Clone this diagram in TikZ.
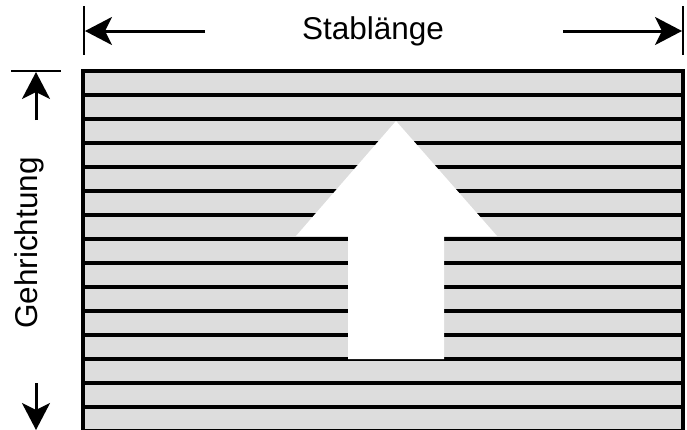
\documentclass[tikz,border=0pt]{standalone}
\usepackage{fontspec}
\setmainfont{Liberation Sans}
\usetikzlibrary{arrows.meta}
\begin{document}
\begin{tikzpicture}[x=1pt,y=-1pt,
  dimline/.style={line width=3pt,-{Stealth[length=27pt,width=28pt,inset=7pt]}},
  tickline/.style={line width=2.5pt},
  stripe/.style={line width=3.2pt},
  lbl/.style={font=\fontsize{31.5}{36}\selectfont,inner sep=0pt}]
\useasboundingbox (0,0) rectangle (687,429);
\clip (0,0) rectangle (687,429);
% bar fill
\fill[gray!27] (83,71) rectangle (683,440);
% stripes
\foreach \y in {71,95,...,431} {
  \draw[stripe] (83,\y) -- (683,\y);
}
\draw[line width=3.5pt] (83,440) -- (83,71) -- (683,71) -- (683,440);
% big white arrow
\fill[white] (348,359) -- (348,236) -- (296,236) -- (396,121) -- (497,236) -- (444,236) -- (444,359) -- cycle;
% top dimension
\coordinate (tl1) at (84,6); \coordinate (tl2) at (84,55);
\coordinate (tr1) at (683,6); \coordinate (tr2) at (683,55);
\draw[tickline] (tl1) -- (tl2);
\draw[tickline] (tr1) -- (tr2);
\node[lbl] (stab) at (373,31) {Stablänge};
\coordinate (la) at (205,31); \coordinate (lt) at (85,31);
\coordinate (ra) at (563,31); \coordinate (rt) at (682,31);
\draw[dimline] (la) -- (lt);
\draw[dimline] (ra) -- (rt);
% left dimension
\coordinate (vt1) at (11,71); \coordinate (vt2) at (61,71);
\draw[tickline] (vt1) -- (vt2);
\coordinate (ua) at (36,120); \coordinate (ut) at (36,72);
\draw[dimline] (ua) -- (ut);
\coordinate (da) at (36,383); \coordinate (dt) at (36,430);
\draw[dimline] (da) -- (dt);
\node[lbl,rotate=90] (geh) at (29,243) {Gehrichtung};
\end{tikzpicture}
\end{document}
